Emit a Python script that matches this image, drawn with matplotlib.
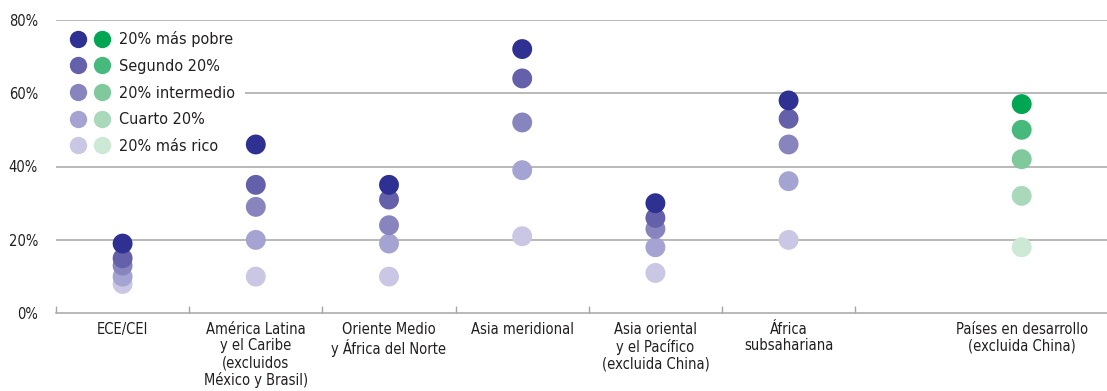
import numpy as np
import matplotlib
matplotlib.use("Agg")
import matplotlib.pyplot as plt
from matplotlib.lines import Line2D
from matplotlib.legend_handler import HandlerTuple

plt.rcParams['font.family'] = ['DejaVu Sans']
plt.rcParams['font.stretch'] = 'condensed'

# datos (% de la población)
regiones = ['ECE/CEI',
            'América Latina\ny el Caribe\n(excluidos\nMéxico y Brasil)',
            'Oriente Medio\ny África del Norte',
            'Asia meridional',
            'Asia oriental\ny el Pacífico\n(excluida China)',
            'África\nsubsahariana',
            'Países en desarrollo\n(excluida China)']
quintiles = ['20% más pobre', 'Segundo 20%', '20% intermedio', 'Cuarto 20%', '20% más rico']

pobre = [19, 46, 35, 72, 30, 58, 57]
segundo = [15, 35, 31, 64, 26, 53, 50]
intermedio = [13, 29, 24, 52, 23, 46, 42]
cuarto = [10, 20, 19, 39, 18, 36, 32]
rico = [8, 10, 10, 21, 11, 20, 18]
series = [pobre, segundo, intermedio, cuarto, rico]

morados = ['#2e3192', '#6460aa', '#8884bd', '#a5a3d1', '#c9c7e4']
verdes = ['#00a651', '#48b97d', '#80c99c', '#a9d9ba', '#cce9d5']

# posiciones de las categorías (la última va separada)
xpos = np.array([0.5, 1.5, 2.5, 3.5, 4.5, 5.5, 7.25])
limites = np.arange(0, 7)

fig = plt.figure(figsize=(11.07, 3.91), dpi=100)
ax = fig.add_axes([56 / 1107, 77.7 / 391, 1051 / 1107, 293.6 / 391])

gris = '#a6a6a6'
texto = '#231f20'

for v in [20, 40, 60, 80]:
    ax.axhline(v, color=gris, lw=1.1, zorder=1)

# del más rico al más pobre, para que el más pobre quede encima
for i in range(len(series) - 1, -1, -1):
    vals = np.array(series[i])
    colores = [morados[i]] * (len(vals) - 1) + [verdes[i]]
    ax.scatter(xpos, vals, s=205, c=colores, linewidths=0, zorder=3)

ax.set_xlim(0, 1051 / 133.2)
ax.set_ylim(0, 80)

ax.set_yticks([0, 20, 40, 60, 80])
ax.set_yticklabels(['0%', '20%', '40%', '60%', '80%'])
ax.tick_params(axis='y', length=0, pad=13, labelsize=10.5, labelcolor=texto)

ax.set_xticks(limites)
ax.set_xticklabels([])
ax.set_xticks(xpos, minor=True)
ax.set_xticklabels(regiones, minor=True, linespacing=1.15)
ax.tick_params(axis='x', which='major', direction='in', length=5, width=1, color=gris)
ax.tick_params(axis='x', which='minor', length=0, pad=6, labelsize=10.5, labelcolor=texto)

for s in ['top', 'right', 'left']:
    ax.spines[s].set_visible(False)
ax.spines['bottom'].set_color(gris)
ax.spines['bottom'].set_linewidth(1.1)

handles = []
for i in range(len(quintiles)):
    h1 = Line2D([], [], ls='none', marker='o', ms=12.5, mfc=morados[i], mec='none')
    h2 = Line2D([], [], ls='none', marker='o', ms=12.5, mfc=verdes[i], mec='none')
    handles.append((h1, h2))

leg = ax.legend(handles, quintiles, handler_map={tuple: HandlerTuple(ndivide=None, pad=0)},
                loc='upper left', bbox_to_anchor=(0.0001, 0.993), fontsize=11.6,
                handlelength=3.0, handletextpad=0.3, labelspacing=0.72,
                borderpad=0.6, borderaxespad=0, frameon=True, fancybox=False,
                numpoints=1, labelcolor=texto)
leg.get_frame().set_facecolor('white')
leg.get_frame().set_edgecolor('none')
leg.get_frame().set_alpha(1)
leg.set_zorder(5)

fig.savefig('out.png', dpi=100)
